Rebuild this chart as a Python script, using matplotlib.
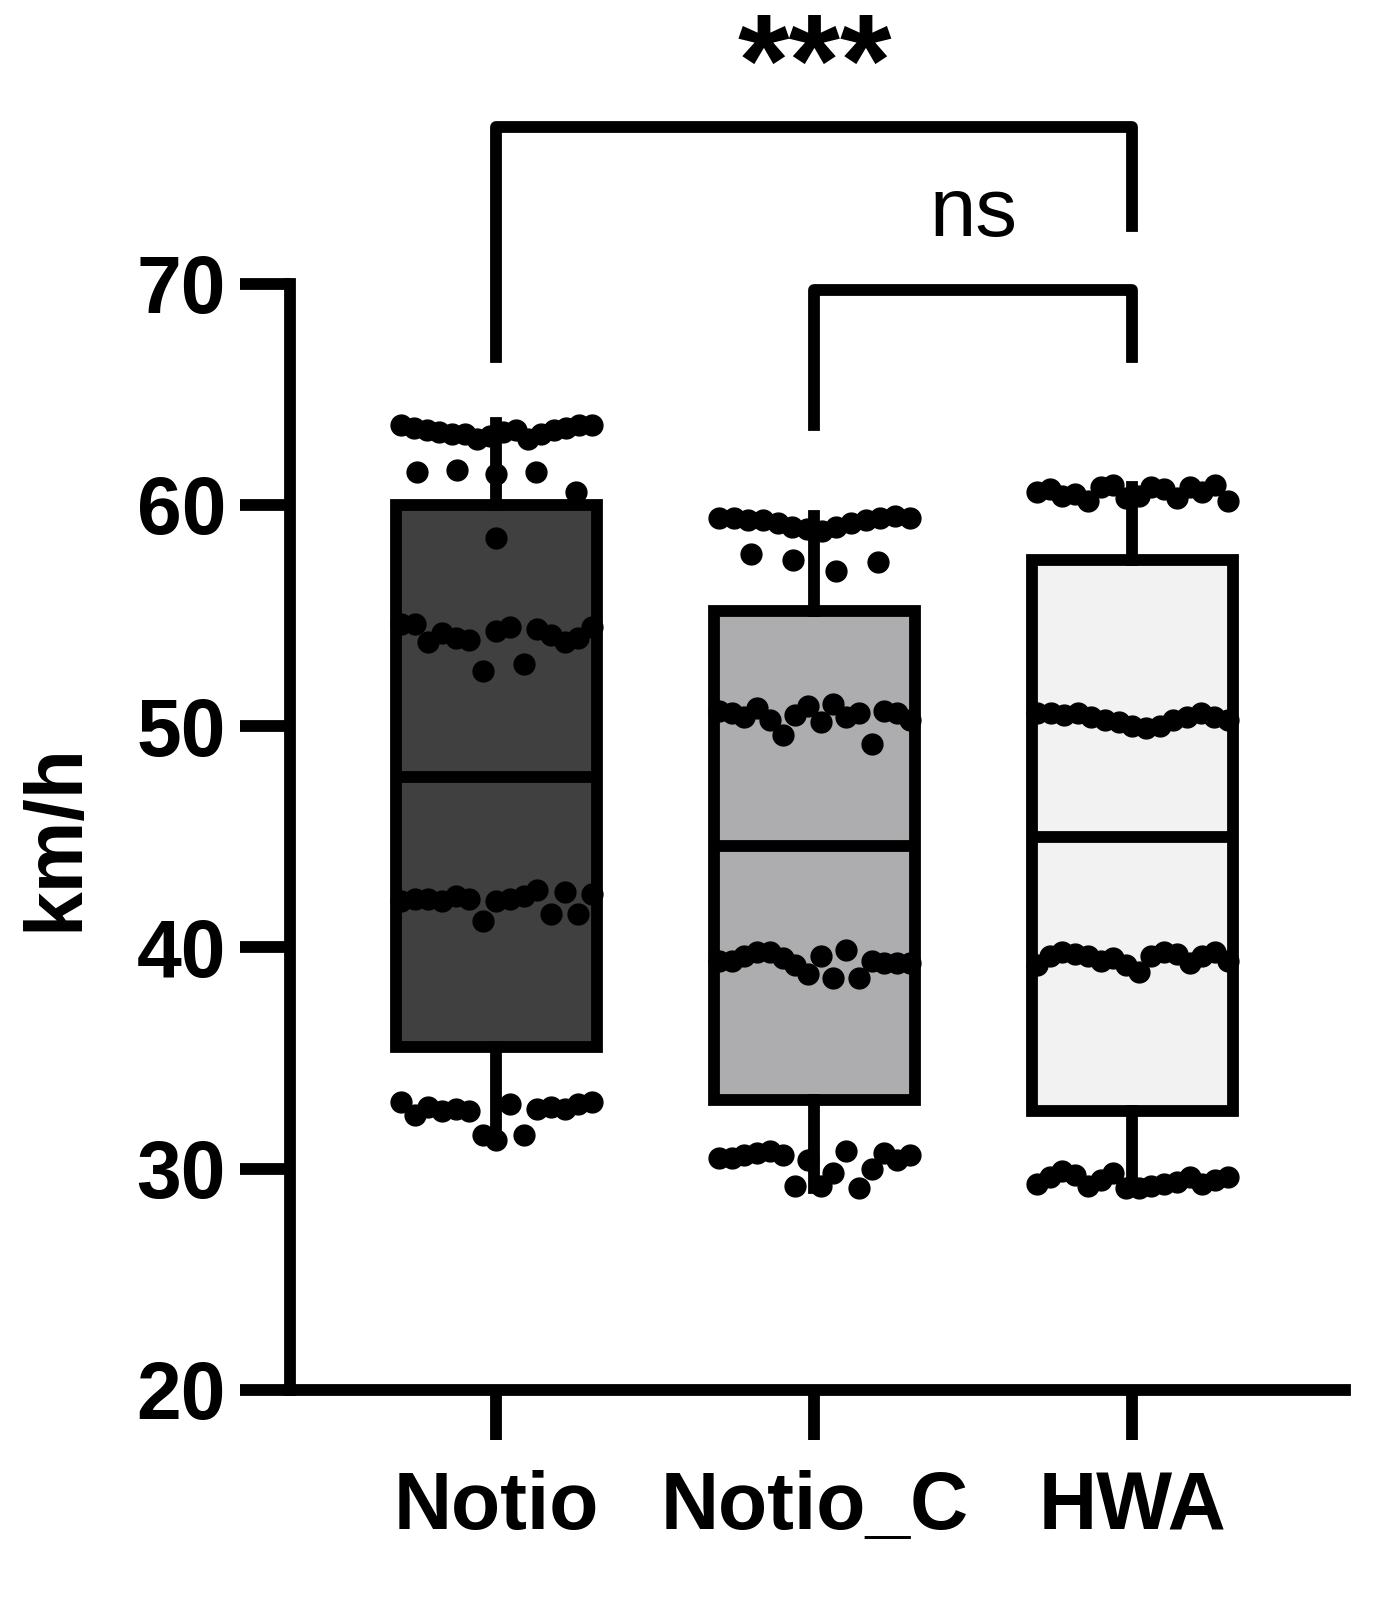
import numpy as np
import matplotlib
matplotlib.use('Agg')
import matplotlib.pyplot as plt

plt.rcParams['font.family'] = ['Liberation Sans', 'DejaVu Sans']
plt.rcParams['font.weight'] = 'bold'

groups = ['Notio', 'Notio_C', 'HWA']
box_colors = ['#404040', '#adadb0', '#f2f2f2']
# box stats: whisker low, q1, median, q3, whisker high
whislo = [31.5, 29.1, 29.1]
q1 = [35.5, 33.1, 32.6]
med = [47.7, 44.6, 45.0]
q3 = [60.0, 55.2, 57.5]
whishi = [63.7, 59.5, 60.8]

# individual points, grouped in clusters
notio_pts = [
    [63.6, 63.5, 63.4, 63.3, 63.2, 63.2, 63.0, 63.1, 63.3, 63.4, 63.0, 63.2, 63.4, 63.5, 63.6, 63.6],
    [61.5, 61.6, 61.4, 61.5, 60.6],
    [58.5],
    [54.6, 54.6, 53.8, 54.2, 54.0, 53.9, 52.5, 54.3, 54.5, 52.8, 54.4, 54.1, 53.8, 54.0, 54.5],
    [42.1, 42.2, 42.2, 42.1, 42.3, 42.2, 41.2, 42.1, 42.2, 42.3, 42.6, 41.5, 42.5, 41.5, 42.4],
    [33.0, 32.4, 32.8, 32.6, 32.7, 32.6, 31.5, 31.3, 32.9, 31.5, 32.7, 32.8, 32.7, 32.9, 33.0],
]
notioc_pts = [
    [59.4, 59.4, 59.3, 59.3, 59.2, 59.0, 58.9, 58.8, 59.0, 59.2, 59.3, 59.4, 59.5, 59.4],
    [57.8, 57.5, 57.0, 57.4],
    [50.7, 50.6, 50.4, 50.8, 50.3, 49.6, 50.5, 50.9, 50.2, 51.0, 50.4, 50.6, 49.2, 50.7, 50.6, 50.3],
    [39.4, 39.4, 39.6, 39.8, 39.8, 39.5, 39.2, 38.8, 39.6, 38.6, 39.9, 38.6, 39.4, 39.3, 39.3, 39.3],
    [30.5, 30.5, 30.6, 30.7, 30.8, 30.6, 29.2, 30.4, 29.2, 29.8, 30.8, 29.1, 30.0, 30.7, 30.4, 30.6],
]
hwa_pts = [
    [60.6, 60.7, 60.4, 60.5, 60.2, 60.8, 60.9, 60.3, 60.4, 60.8, 60.7, 60.3, 60.8, 60.6, 60.9, 60.2],
    [50.6, 50.6, 50.5, 50.6, 50.4, 50.3, 50.2, 50.0, 49.9, 50.0, 50.3, 50.4, 50.6, 50.4, 50.3],
    [39.2, 39.6, 39.8, 39.7, 39.6, 39.4, 39.5, 39.2, 38.9, 39.6, 39.8, 39.7, 39.3, 39.6, 39.8, 39.4],
    [29.3, 29.6, 29.9, 29.7, 29.2, 29.5, 29.8, 29.1, 29.1, 29.2, 29.3, 29.4, 29.6, 29.3, 29.5, 29.6],
]
points = [notio_pts, notioc_pts, hwa_pts]

fig = plt.figure(figsize=(14, 16.03), dpi=100)
ax = fig.add_axes([0.207, 0.133, 0.754, 0.690])
lw = 8.5

for i in range(3):
    ax.bxp([dict(whislo=whislo[i], q1=q1[i], med=med[i], q3=q3[i], whishi=whishi[i], fliers=[])],
           positions=[i], widths=0.63, patch_artist=True, showcaps=False,
           boxprops=dict(facecolor=box_colors[i], edgecolor='black', linewidth=lw),
           medianprops=dict(color='black', linewidth=lw),
           whiskerprops=dict(color='black', linewidth=lw), zorder=1)
    for cl in points[i]:
        n = len(cl)
        span = 0.3 if n > 6 else 0.05 * n
        xs = i + np.linspace(-span, span, n) if n > 1 else [i]
        ax.plot(xs, cl, 'o', color='black', markersize=15, zorder=3, clip_on=False)

ax.set_xlim(-0.65, 2.67)
ax.set_ylim(20, 70)
ax.set_yticks(range(20, 71, 10))
ax.set_xticks(range(3))
ax.set_xticklabels(groups)
ax.tick_params(axis='both', width=lw, length=36, labelsize=58, pad=10)
ax.tick_params(axis='x', pad=22)
for s in ['top', 'right']:
    ax.spines[s].set_visible(False)
for s in ['left', 'bottom']:
    ax.spines[s].set_linewidth(lw)
ax.set_ylabel('km/h', fontsize=58, fontweight='bold', labelpad=30)

# significance brackets
ax.plot([0, 0, 2, 2], [66.7, 77.1, 77.1, 72.6], color='black', lw=lw, clip_on=False,
        solid_joinstyle='round')
ax.text(1, 79.6, '***', ha='center', va='center', fontsize=95, fontweight='bold')
ax.plot([1, 1, 2, 2], [63.6, 69.7, 69.7, 66.7], color='black', lw=lw, clip_on=False,
        solid_joinstyle='round')
ax.text(1.5, 71.4, 'ns', ha='center', va='bottom', fontsize=60, fontweight='normal')

fig.savefig('out.png', dpi=100)
